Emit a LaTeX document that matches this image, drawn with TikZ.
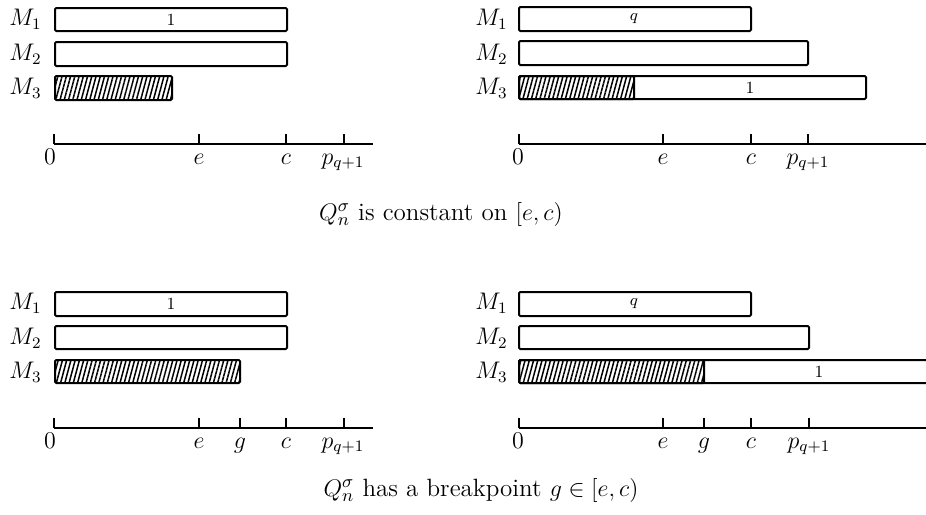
\documentclass[tikz,border=0pt]{standalone}
\usetikzlibrary{patterns.meta}
\tikzset{
  bar/.style={draw, line width=1pt, rounded corners=0.6pt, fill=white},
  hatchbar/.style={draw, line width=1pt, rounded corners=0.6pt, pattern={Lines[angle=75,distance=2.05pt,line width=0.75pt]}},
  axisline/.style={line width=0.75pt},
  tickmark/.style={line width=0.6pt},
  mlab/.style={anchor=east, font=\fontsize{11.5}{13}\selectfont, inner sep=0pt},
  alab/.style={anchor=base, font=\fontsize{11.5}{13}\selectfont, inner sep=0pt},
  blab/.style={font=\fontsize{8.5}{10}\selectfont, inner sep=0pt},
  captext/.style={anchor=base, font=\fontsize{12.5}{14}\selectfont, inner sep=0pt}
}
\begin{document}
\begin{tikzpicture}[x=0.5pt,y=-0.5pt]
\useasboundingbox (0,0) rectangle (926,514);
\clip (0,0) rectangle (926,514);

% ---------- top left ----------
\node[mlab] (tlm1) at (42,19) {$M_1$};
\node[mlab] (tlm2) at (42,54) {$M_2$};
\node[mlab] (tlm3) at (42,88) {$M_3$};
\draw[bar] (55,8) rectangle (287,31);
\node[blab] (tl1) at (171,19.5) {1};
\draw[bar] (55,42) rectangle (287,66);
\draw[hatchbar] (55,76) rectangle (172,100);
\draw[axisline] (54,144) -- (373,144);
\foreach \x in {54,199,286,344} \draw[tickmark] (\x,144) -- (\x,134);
\node[alab] (tl0) at (50,164) {$0$};
\node[alab] (tle) at (199,164) {$e$};
\node[alab] (tlc) at (286,164) {$c$};
\node[alab] (tlp) at (343,164) {$p_{q+1}$};

% ---------- top right ----------
\node[mlab] (trm1) at (508,19) {$M_1$};
\node[mlab] (trm2) at (508,54) {$M_2$};
\node[mlab] (trm3) at (508,88) {$M_3$};
\draw[bar] (519,7) rectangle (751,31);
\node[blab] (trq) at (634,19) {$q$};
\draw[bar] (519,41) rectangle (808,65);
\draw[bar] (519,76) rectangle (866,99);
\draw[hatchbar] (519,76) rectangle (634,99);
\node[blab] (tr1) at (750,88) {1};
\draw[axisline] (519,144) -- (926,144);
\foreach \x in {519,663,751,808} \draw[tickmark] (\x,144) -- (\x,134);
\node[alab] (tr0) at (518,164) {$0$};
\node[alab] (tre) at (663,164) {$e$};
\node[alab] (trc) at (751,164) {$c$};
\node[alab] (trp) at (808,164) {$p_{q+1}$};

\node[captext] (cap1) at (441,220) {$Q_n^\sigma$ is constant on $[e,c)$};

% ---------- bottom left ----------
\node[mlab] (blm1) at (42,303) {$M_1$};
\node[mlab] (blm2) at (42,338) {$M_2$};
\node[mlab] (blm3) at (42,372) {$M_3$};
\draw[bar] (55,292) rectangle (287,316);
\node[blab] (bl1) at (171,304) {1};
\draw[bar] (55,326) rectangle (287,349);
\draw[hatchbar] (55,360) rectangle (240,383);
\draw[axisline] (54,428) -- (373,428);
\foreach \x in {54,199,240,286,344} \draw[tickmark] (\x,428) -- (\x,418);
\node[alab] (bl0) at (50,448) {$0$};
\node[alab] (ble) at (199,448) {$e$};
\node[alab] (blg) at (240,448) {$g$};
\node[alab] (blc) at (286,448) {$c$};
\node[alab] (blp) at (343,448) {$p_{q+1}$};

% ---------- bottom right ----------
\node[mlab] (brm1) at (508,303) {$M_1$};
\node[mlab] (brm2) at (508,338) {$M_2$};
\node[mlab] (brm3) at (508,372) {$M_3$};
\draw[bar] (519,292) rectangle (751,316);
\node[blab] (brq) at (634,304) {$q$};
\draw[bar] (519,326) rectangle (809,349);
\draw[bar] (519,360) rectangle (936,383);
\draw[hatchbar] (519,360) rectangle (704,383);
\node[blab] (br1) at (819,372) {1};
\draw[axisline] (519,428) -- (926,428);
\foreach \x in {519,663,704,751,809} \draw[tickmark] (\x,428) -- (\x,418);
\node[alab] (br0) at (518,448) {$0$};
\node[alab] (bre) at (663,448) {$e$};
\node[alab] (brg) at (704,448) {$g$};
\node[alab] (brc) at (751,448) {$c$};
\node[alab] (brp) at (809,448) {$p_{q+1}$};

\node[captext] (cap2) at (481,496) {$Q_n^\sigma$ has a breakpoint $g\in[e,c)$};
\end{tikzpicture}
\end{document}
